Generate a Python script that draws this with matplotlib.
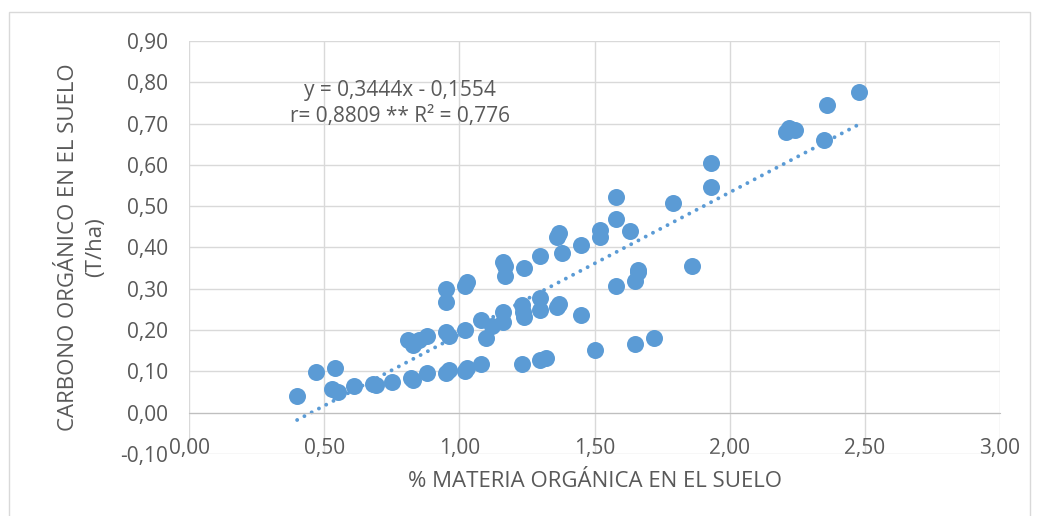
import matplotlib.pyplot as plt
from matplotlib.patches import Rectangle
from matplotlib.ticker import FuncFormatter, MultipleLocator

# % materia orgánica vs carbono orgánico (T/ha)
materia = [0.40, 0.47, 0.54, 0.53, 0.55, 0.61, 0.68, 0.69, 0.75, 0.82,
           0.83, 0.88, 0.95, 0.96, 1.02, 1.03, 1.08, 1.23, 1.30, 1.32,
           1.50, 1.65, 1.72, 0.81, 0.83, 0.85, 0.88, 0.95, 0.96, 1.02,
           1.08, 1.10, 1.12, 1.16, 1.16, 1.23, 1.24, 1.235, 1.30, 1.30,
           1.37, 1.36, 1.45, 0.95, 0.95, 1.02, 1.03, 1.16, 1.17, 1.17,
           1.24, 1.30, 1.38, 1.36, 1.37, 1.45, 1.52, 1.52, 1.58, 1.58,
           1.63, 1.58, 1.65, 1.66, 1.66, 1.86, 1.79, 1.93, 1.93, 2.21,
           2.22, 2.24, 2.35, 2.36, 2.48]
carbono = [0.040, 0.098, 0.108, 0.058, 0.050, 0.064, 0.070, 0.066, 0.074, 0.083,
           0.078, 0.096, 0.097, 0.104, 0.100, 0.108, 0.118, 0.117, 0.128, 0.133,
           0.153, 0.167, 0.182, 0.176, 0.163, 0.177, 0.186, 0.195, 0.186, 0.200,
           0.224, 0.181, 0.210, 0.243, 0.219, 0.260, 0.232, 0.245, 0.278, 0.249,
           0.262, 0.255, 0.237, 0.300, 0.267, 0.307, 0.316, 0.364, 0.355, 0.330,
           0.350, 0.380, 0.386, 0.425, 0.435, 0.406, 0.425, 0.442, 0.468, 0.522,
           0.440, 0.306, 0.320, 0.340, 0.345, 0.355, 0.507, 0.546, 0.604, 0.679,
           0.689, 0.685, 0.660, 0.745, 0.776]

pendiente, intercepto = 0.3444, -0.1554
ecuacion = "y = 0,3444x - 0,1554"
estadistica = "r= 0,8809 ** R² = 0,776"

azul = "#5B9BD5"
gris_texto = "#595959"
gris_grid = "#D9D9D9"

plt.rcParams["font.family"] = ["Open Sans", "DejaVu Sans"]

fig = plt.figure(figsize=(10.39, 5.16), dpi=100)
fig.patches.append(Rectangle((9 / 1039, -0.1), 1021 / 1039, 1.1 - 12 / 516,
                             transform=fig.transFigure, fill=False,
                             edgecolor=gris_grid, linewidth=1.0))
ax = fig.add_axes([189 / 1039, 1 - 454 / 516, 811 / 1039, 413 / 516])

ax.scatter(materia, carbono, s=150, color=azul, zorder=3, linewidths=0)

# linea de tendencia punteada
x0, x1 = min(materia), max(materia)
ax.plot([x0, x1], [pendiente * x0 + intercepto, pendiente * x1 + intercepto],
        color=azul, linestyle=(0, (0.01, 2.1)), linewidth=2.8,
        dash_capstyle="round", zorder=2)

ax.set_xlim(0, 3)
ax.set_ylim(-0.10, 0.90)
ax.xaxis.set_major_locator(MultipleLocator(0.5))
ax.yaxis.set_major_locator(MultipleLocator(0.1))
fmt = FuncFormatter(lambda v, p: f"{v:.2f}".replace(".", ",").replace("-0,00", "0,00"))
ax.xaxis.set_major_formatter(fmt)
ax.yaxis.set_major_formatter(fmt)

ax.grid(True, color=gris_grid, linewidth=1.0, zorder=0)
ax.set_axisbelow(True)
for lado in ["top", "right", "left"]:
    ax.spines[lado].set_visible(False)
ax.spines["bottom"].set_position(("data", 0))
ax.spines["bottom"].set_color("#BFBFBF")
ax.tick_params(axis="both", length=0, labelsize=15, colors=gris_texto)
ax.tick_params(axis="x", pad=18)
ax.tick_params(axis="y", pad=15)

ax.set_xlabel("% MATERIA ORGÁNICA EN EL SUELO", fontsize=16, color=gris_texto)
ax.xaxis.set_label_coords(0.5, -0.04)
ax.set_ylabel("CARBONO ORGÁNICO EN EL SUELO\n(T/ha)", fontsize=16,
              color=gris_texto, linespacing=1.4)
ax.yaxis.set_label_coords(-0.102, 0.5)

ax.text(0.78, 0.781, ecuacion, fontsize=15, color=gris_texto, ha="center", va="center")
ax.text(0.78, 0.716, estadistica, fontsize=15, color=gris_texto, ha="center", va="center")

fig.savefig("out.png", dpi=100)
